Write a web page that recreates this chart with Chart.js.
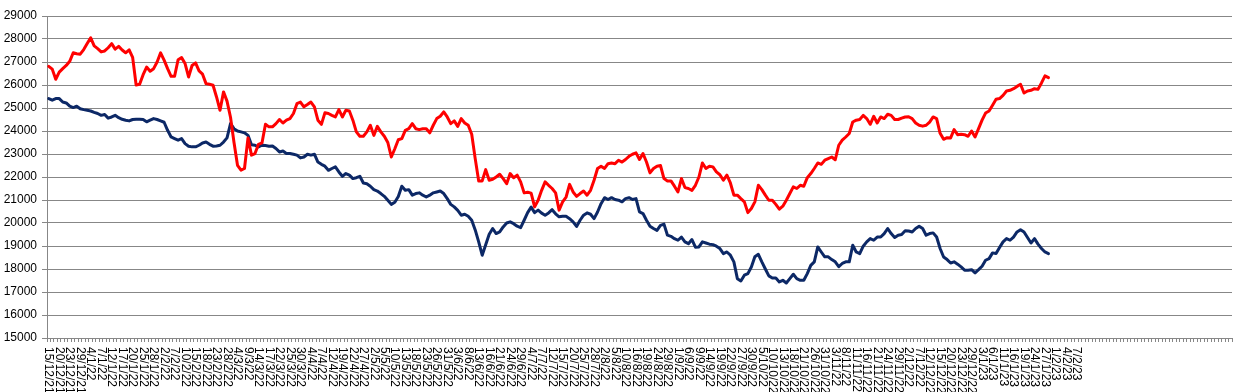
<!DOCTYPE html>
<html>
<head>
<meta charset="utf-8">
<script src="https://cdn.jsdelivr.net/npm/chart.js@4/dist/chart.umd.min.js"></script>
<style>
  html, body { margin: 0; padding: 0; background: #fff; }
  canvas { display: block; }
</style>
</head>
<body>
<canvas id="chart" width="1234" height="392"></canvas>
<script>
// Date labels shown on the axis (one every third trading day)
const tickLabels = [
    '15/12/21', '20/12/21', '23/12/21', '29/12/21', '4/1/22', '7/1/22', '12/1/22', '17/1/22', '20/1/22', '25/1/22',
    '28/1/22', '2/2/22', '7/2/22', '10/2/22', '15/2/22', '18/2/22', '23/2/22', '28/2/22', '4/3/22', '9/3/22',
    '14/3/22', '17/3/22', '22/3/22', '25/3/22', '30/3/22', '4/4/22', '7/4/22', '12/4/22', '19/4/22', '22/4/22',
    '27/4/22', '2/5/22', '5/5/22', '10/5/22', '13/5/22', '18/5/22', '23/5/22', '26/5/22', '31/5/22', '3/6/22',
    '8/6/22', '13/6/22', '16/6/22', '21/6/22', '24/6/22', '29/6/22', '4/7/22', '7/7/22', '12/7/22', '15/7/22',
    '20/7/22', '25/7/22', '28/7/22', '2/8/22', '5/8/22', '10/8/22', '16/8/22', '19/8/22', '24/8/22', '29/8/22',
    '1/9/22', '6/9/22', '9/9/22', '14/9/22', '19/9/22', '22/9/22', '27/9/22', '30/9/22', '5/10/22', '10/10/22',
    '13/10/22', '18/10/22', '21/10/22', '26/10/22', '31/10/22', '3/11/22', '8/11/22', '11/11/22', '16/11/22', '21/11/22',
    '24/11/22', '29/11/22', '2/12/22', '7/12/22', '12/12/22', '15/12/22', '20/12/22', '23/12/22', '29/12/22', '3/1/23',
    '6/1/23', '11/1/23', '16/1/23', '19/1/23', '24/1/23', '27/1/23', '1/2/23', '4/2/23', '7/2/23'
];
const labelEvery = 3;
const categoryCount = 339;   // axis keeps running past the data (blank rows)

// Red series
const redValues = [
    26810, 26690, 26250, 26560, 26710, 26850, 27030, 27400, 27360, 27340,
    27540, 27800, 28050, 27700, 27580, 27440, 27480, 27620, 27800, 27560,
    27680, 27520, 27400, 27530, 27200, 26000, 26030, 26450, 26780, 26600,
    26710, 27000, 27400, 27080, 26710, 26380, 26380, 27100, 27190, 26930,
    26350, 26850, 26960, 26610, 26470, 26060, 26030, 25990, 25480, 24900,
    25700, 25300, 24600, 23500, 22510, 22300, 22370, 23700, 22950, 23020,
    23420, 23480, 24290, 24180, 24180, 24320, 24500, 24350, 24470, 24540,
    24760, 25190, 25260, 25050, 25150, 25260, 25050, 24470, 24290, 24790,
    24760, 24680, 24610, 24930, 24610, 24900, 24870, 24470, 23960, 23770,
    23770, 23960, 24250, 23810, 24200, 23960, 23770, 23500, 22870, 23230,
    23620, 23670, 24030, 24100, 24320, 24100, 24060, 24100, 24100, 23920,
    24250, 24540, 24640, 24830, 24610, 24320, 24440, 24200, 24540, 24350,
    24250, 23860, 22800, 21830, 21830, 22320, 21860, 21900, 22000, 22120,
    21930, 21710, 22150, 21970, 22080, 21790, 21310, 21340, 21300, 20700,
    20990, 21420, 21790, 21640, 21500, 21310, 20560, 20920, 21130, 21680,
    21350, 21160, 21280, 21390, 21210, 21420, 21860, 22370, 22470, 22370,
    22580, 22610, 22580, 22730, 22650, 22760, 22900, 22990, 23050, 22760,
    23020, 22650, 22180, 22370, 22470, 22500, 21930, 21830, 21830, 21600,
    21350, 21930, 21540, 21500, 21420, 21640, 22000, 22610, 22370, 22470,
    22440, 22220, 22100, 21860, 22080, 21740, 21210, 21210, 21060, 20920,
    20450, 20630, 20920, 21640, 21450, 21210, 20990, 20990, 20810, 20600,
    20730, 20990, 21280, 21570, 21500, 21640, 21600, 21970, 22150, 22370,
    22610, 22550, 22730, 22800, 22870, 22750, 23380, 23600, 23740, 23890,
    24390, 24470, 24500, 24680, 24540, 24290, 24640, 24350, 24610, 24540,
    24730, 24680, 24500, 24500, 24560, 24610, 24620, 24540, 24350, 24250,
    24210, 24250, 24390, 24610, 24540, 23900, 23640, 23710, 23700, 24060,
    23840, 23860, 23840, 23770, 24000, 23740, 24100, 24470, 24780, 24870,
    25120, 25380, 25410, 25550, 25740, 25770, 25840, 25940, 26030, 25650,
    25740, 25770, 25840, 25810, 26090, 26400, 26320
];

// Navy series
const navyValues = [
    25410, 25340, 25410, 25410, 25260, 25220, 25080, 25020, 25080, 24970,
    24930, 24900, 24870, 24810, 24760, 24680, 24720, 24560, 24610, 24680,
    24580, 24510, 24470, 24440, 24500, 24510, 24510, 24500, 24400, 24470,
    24540, 24500, 24440, 24380, 24030, 23740, 23670, 23600, 23670, 23450,
    23340, 23310, 23310, 23380, 23480, 23520, 23420, 23340, 23350, 23380,
    23520, 23700, 24320, 24100, 24000, 23960, 23920, 23810, 23400, 23380,
    23310, 23380, 23370, 23340, 23350, 23240, 23090, 23130, 23020, 23020,
    22990, 22950, 22830, 22870, 22990, 22950, 22990, 22650, 22550, 22470,
    22290, 22370, 22440, 22220, 22030, 22150, 22080, 21930, 21970, 22030,
    21740, 21710, 21600, 21450, 21390, 21280, 21160, 20990, 20810, 20900,
    21150, 21600, 21420, 21450, 21210, 21280, 21310, 21210, 21130, 21210,
    21310, 21350, 21390, 21280, 21060, 20810, 20700, 20550, 20340, 20380,
    20290, 20120, 19700, 19180, 18600, 19050, 19510, 19760, 19540, 19610,
    19830, 20000, 20050, 19970, 19860, 19800, 20120, 20450, 20690, 20450,
    20560, 20430, 20340, 20440, 20580, 20400, 20270, 20290, 20290, 20190,
    20050, 19850, 20120, 20340, 20440, 20380, 20190, 20480, 20840, 21100,
    21020, 21100, 21020, 20990, 20920, 21060, 21100, 21020, 21060, 20480,
    20410, 20120, 19860, 19760, 19680, 19900, 19950, 19470, 19420, 19320,
    19250, 19390, 19180, 19100, 19280, 18950, 18960, 19180, 19130, 19080,
    19060, 18990, 18890, 18670, 18740, 18600, 18310, 17580, 17480, 17730,
    17800, 18090, 18530, 18640, 18310, 18000, 17700, 17610, 17610, 17440,
    17510, 17390, 17580, 17770, 17580, 17510, 17510, 17800, 18160, 18310,
    18960, 18740, 18530, 18530, 18410, 18310, 18100, 18240, 18310, 18310,
    19030, 18740, 18670, 18990, 19180, 19320, 19250, 19390, 19390, 19540,
    19760, 19540, 19370, 19470, 19500, 19660, 19650, 19610, 19760, 19860,
    19760, 19470, 19540, 19570, 19390, 18890, 18520, 18410, 18260, 18310,
    18210, 18090, 17950, 17950, 17970, 17830, 17970, 18120, 18380, 18450,
    18700, 18670, 18930, 19180, 19320, 19250, 19390, 19610, 19710, 19610,
    19370, 19130, 19320, 19080, 18890, 18740, 18670
];

const yMin = 15000;
const yMax = 29000;
const yStep = 1000;

// one category per row, labelled every third one
const categories = Array.from({ length: categoryCount }, (_, i) =>
    i % labelEvery === 0 ? (tickLabels[i / labelEvery] || '') : '');

const axisGrey = '#878787';
const labelFont = '12px "Liberation Sans", Arial, sans-serif';

// Draws the date labels rotated 90deg, reading downwards from the axis
const verticalLabels = {
    id: 'verticalLabels',
    afterDraw(chart) {
        const ctx = chart.ctx;
        const xScale = chart.scales.x;
        ctx.save();
        ctx.font = labelFont;
        ctx.fillStyle = '#000';
        ctx.textAlign = 'left';
        ctx.textBaseline = 'middle';
        chart.data.labels.forEach((text, i) => {
            if (!text) return;
            ctx.save();
            ctx.translate(xScale.getPixelForValue(i), xScale.top + 9);
            ctx.rotate(Math.PI / 2);
            ctx.fillText(text, 0, 0);
            ctx.restore();
        });
        ctx.restore();
    }
};

const renderChart = () => {
    const ctx = document.getElementById('chart').getContext('2d');
    new Chart(ctx, {
        type: 'line',
        data: {
            labels: categories,
            datasets: [{
                label: 'Red',
                data: redValues,
                borderColor: '#ff0000',
                borderWidth: 3,
                pointRadius: 0,
                tension: 0,
                borderJoinStyle: 'round',
                borderCapStyle: 'round',
            }, {
                label: 'Navy',
                data: navyValues,
                borderColor: '#0c2866',
                borderWidth: 3,
                pointRadius: 0,
                tension: 0,
                borderJoinStyle: 'round',
                borderCapStyle: 'round',
            }],
        },
        options: {
            responsive: false,
            animation: false,
            layout: { padding: { top: 16, right: 2, left: 0, bottom: 0 } },
            plugins: {
                legend: { display: false },
                tooltip: { enabled: false },
            },
            scales: {
                x: {
                    offset: true,
                    afterFit: (scale) => { scale.height = 54; },
                    ticks: { display: false, autoSkip: false },
                    grid: {
                        offset: true,
                        drawOnChartArea: false,
                        drawTicks: true,
                        tickLength: 4,
                        color: axisGrey,
                    },
                    border: { display: true, color: axisGrey },
                },
                y: {
                    min: yMin,
                    max: yMax,
                    afterFit: (scale) => { scale.width = 47; },
                    ticks: {
                        stepSize: yStep,
                        padding: 5,
                        color: '#000',
                        font: { family: '"Liberation Sans", Arial, sans-serif', size: 12 },
                        callback: (v) => String(v),
                    },
                    grid: { color: axisGrey, tickLength: 5 },
                    border: { display: true, color: axisGrey },
                },
            },
        },
        plugins: [verticalLabels],
    });
};

renderChart();
</script>
</body>
</html>
